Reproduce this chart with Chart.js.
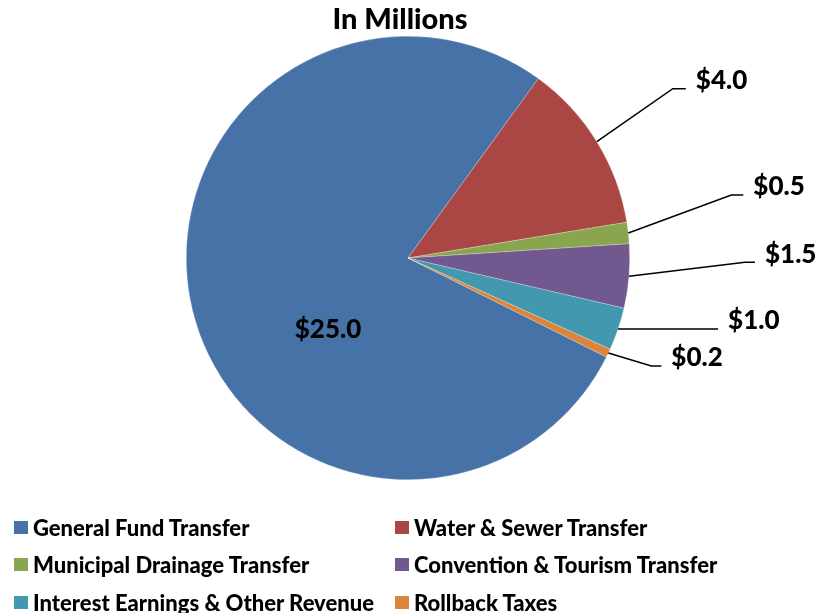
<!DOCTYPE html>
<html>
<head>
<meta charset="utf-8">
<script src="https://cdn.jsdelivr.net/npm/chart.js@4.4.1/dist/chart.umd.min.js"></script>
<style>
  html, body { margin: 0; padding: 0; background: #fff; }
  #wrap { position: relative; width: 818px; height: 613px; overflow: hidden; }
  #c { position: absolute; left: 0; top: 0; }
  .leg { position: absolute; font-family: Lato, "Open Sans", sans-serif; font-weight: 900; font-size: 22px; color: #000; white-space: nowrap; display: flex; align-items: center; height: 26px; }
  .leg span.box { display: inline-block; width: 14px; height: 13px; margin-right: 5px; }
</style>
</head>
<body>
<div id="wrap">
  <canvas id="c" width="818" height="613"></canvas>
  <div id="legend"></div>
</div>
<script>
// ---- data ----
const categories = [
  "General Fund Transfer",
  "Water & Sewer Transfer",
  "Municipal Drainage Transfer",
  "Convention & Tourism Transfer",
  "Interest Earnings & Other Revenue",
  "Rollback Taxes"
];
const values = [25.0, 4.0, 0.5, 1.5, 1.0, 0.2];
const colors = ["#4672A8", "#AA4643", "#89A54E", "#71588F", "#4198AF", "#DB843D"];
const titleText = "In Millions";

// ---- styles for data labels (offsets relative to arc edge) ----
const labelStyle = [
  { inside: true, dx: -80, dy: 72 },
  { dx: 76, dy: -53, tail: 13 },
  { dx: 103, dy: -38, tail: 12 },
  { dx: 116, dy: -14, tail: 10 },
  { dx: 100, dy: 0, tail: 0 },
  { dx: 43, dy: 13, tail: 10 }
];
const FONT = "Lato, 'Open Sans', sans-serif";

const labelPlugin = {
  id: 'pieLabels',
  afterDatasetsDraw(chart) {
    const ctx = chart.ctx;
    const meta = chart.getDatasetMeta(0);
    ctx.save();
    ctx.font = "900 26px " + FONT;
    ctx.fillStyle = "#000";
    ctx.strokeStyle = "#000";
    ctx.lineWidth = 1.5;
    meta.data.forEach((arc, i) => {
      const st = labelStyle[i];
      const txt = "$" + values[i].toFixed(1);
      const p = arc.getProps(['x', 'y', 'startAngle', 'endAngle', 'outerRadius'], true);
      const mid = (p.startAngle + p.endAngle) / 2;
      if (st.inside) {
        ctx.textAlign = "center";
        ctx.textBaseline = "middle";
        ctx.fillText(txt, p.x + st.dx, p.y + st.dy);
        return;
      }
      const ax = p.x + p.outerRadius * Math.cos(mid);
      const ay = p.y + p.outerRadius * Math.sin(mid);
      const ex = ax + st.dx, ey = ay + st.dy;
      const tx = ex + st.tail;
      ctx.beginPath();
      ctx.moveTo(ax, ay);
      ctx.lineTo(ex, ey);
      ctx.lineTo(tx, ey);
      ctx.stroke();
      ctx.textAlign = "left";
      ctx.textBaseline = "middle";
      ctx.fillText(txt, tx + 10, ey - 8);
    });
    // title
    ctx.font = "900 29px " + FONT;
    ctx.textAlign = "center";
    ctx.textBaseline = "middle";
    ctx.fillText(titleText, 400, 20);
    ctx.restore();
  }
};

new Chart(document.getElementById('c'), {
  type: 'pie',
  data: {
    labels: categories,
    datasets: [{
      data: values,
      backgroundColor: colors,
      borderColor: "rgba(255,255,255,0.5)",
      borderWidth: 0.5
    }]
  },
  options: {
    responsive: false,
    animation: false,
    rotation: 116.5,
    layout: { padding: { left: 186, right: 188, top: 36, bottom: 133 } },
    plugins: {
      legend: { display: false },
      title: { display: false },
      tooltip: { enabled: false }
    }
  },
  plugins: [labelPlugin]
});

// ---- HTML legend (2 columns) ----
const legend = document.getElementById('legend');
const colX = [14, 395];
const rowY = [527, 564, 602];
categories.forEach((name, i) => {
  const d = document.createElement('div');
  d.className = 'leg';
  d.style.left = colX[i % 2] + 'px';
  d.style.top = (rowY[Math.floor(i / 2)] - 13) + 'px';
  const b = document.createElement('span');
  b.className = 'box';
  b.style.background = colors[i];
  d.appendChild(b);
  d.appendChild(document.createTextNode(name));
  legend.appendChild(d);
});
</script>
</body>
</html>
